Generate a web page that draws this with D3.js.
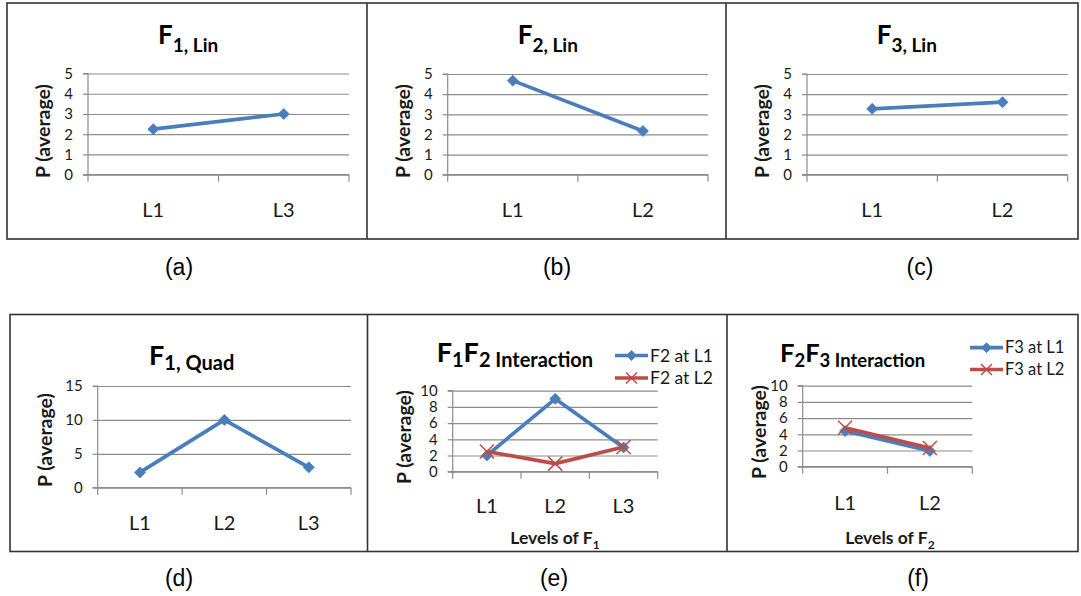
<!DOCTYPE html>
<html><head><meta charset="utf-8">
<script src="https://cdn.jsdelivr.net/npm/d3@7"></script>
<style>
html,body{margin:0;padding:0;background:#fff;}
svg{display:block;}
</style></head><body>
<svg id="fig" width="1081" height="596"></svg>
<script>
// Factor levels on each horizontal axis
const levelsF1Lin = ["L1", "L3"];
const levelsTwo = ["L1", "L2"];
const levelsThree = ["L1", "L2", "L3"];

// Average P at each level
const f1Lin = [2.25, 3.0];
const f2Lin = [4.67, 2.17];
const f3Lin = [3.27, 3.6];
const f1Quad = [2.25, 10, 3];
const f2AtL1 = [2, 9, 3];
const f2AtL2 = [2.5, 1, 3.05];
const f3AtL1 = [4.4, 1.95];
const f3AtL2 = [4.8, 2.3];

// Series names for the interaction plots
const seriesF1F2 = ["F2 at L1", "F2 at L2"];
const seriesF2F3 = ["F3 at L1", "F3 at L2"];

// Y tick values
const ticksLin = [0, 1, 2, 3, 4, 5];
const ticksQuad = [0, 5, 10, 15];
const ticksInter = [0, 2, 4, 6, 8, 10];

const captions = ["(a)", "(b)", "(c)", "(d)", "(e)", "(f)"];

const BLUE = "#4a7ebb", RED = "#be4b48", GRID = "#8c8c8c", INK = "#1a1a1a";
const FONT = "Lato, 'Open Sans', sans-serif";

const svg = d3.select("#fig");

// Panel frames: two rows of three boxes
const frame = svg.append("g").attr("fill", "none").attr("stroke", "#333").attr("stroke-width", 1.6);
frame.append("rect").attr("x", 7).attr("y", 3).attr("width", 1071).attr("height", 236);
frame.append("line").attr("x1", 367).attr("x2", 367).attr("y1", 3).attr("y2", 239);
frame.append("line").attr("x1", 726).attr("x2", 726).attr("y1", 3).attr("y2", 239);
frame.append("rect").attr("x", 10).attr("y", 314.5).attr("width", 1068).attr("height", 237);
frame.append("line").attr("x1", 367.5).attr("x2", 367.5).attr("y1", 314.5).attr("y2", 551.5);
frame.append("line").attr("x1", 727).attr("x2", 727).attr("y1", 314.5).attr("y2", 551.5);

const panels = [
  { levels: levelsF1Lin, ticks: ticksLin, series: [{ v: f1Lin, c: BLUE, m: "diamond" }],
    box: [88, 349, 73.5, 174.7], labelY: 217, yLabel: [43, 131],
    title: { x: 158, y: 43.5, parts: [["F", 0], ["1, Lin", 1]], big: 26, sub: 19, off: 8 } },
  { levels: levelsTwo, ticks: ticksLin, series: [{ v: f2Lin, c: BLUE, m: "diamond" }],
    box: [447.7, 708, 74, 174.7], labelY: 217, yLabel: [403, 131],
    title: { x: 517.7, y: 43.5, parts: [["F", 0], ["2, Lin", 1]], big: 26, sub: 19, off: 8 } },
  { levels: levelsTwo, ticks: ticksLin, series: [{ v: f3Lin, c: BLUE, m: "diamond" }],
    box: [807, 1067.7, 74, 174.7], labelY: 217, yLabel: [762, 131],
    title: { x: 876.7, y: 43.5, parts: [["F", 0], ["3, Lin", 1]], big: 26, sub: 19, off: 8 } },
  { levels: levelsThree, ticks: ticksQuad, series: [{ v: f1Quad, c: BLUE, m: "diamond" }],
    box: [97.7, 351, 386, 487.7], labelY: 529.5, yLabel: [45, 440],
    title: { x: 149, y: 364.5, parts: [["F", 0], ["1, Quad", 1]], big: 27, sub: 20, off: 5 } },
  { levels: levelsThree, ticks: ticksInter,
    series: [{ v: f2AtL1, c: BLUE, m: "diamond", name: seriesF1F2[0] }, { v: f2AtL2, c: RED, m: "cross", name: seriesF1F2[1] }],
    box: [452.7, 657.7, 390.7, 471.7], labelY: 513, yLabel: [404, 437],
    legend: { x: 615, y: [355.5, 378], size: 17.5 }, xTitle: { x: 555, y: 544, sub: "1" },
    title: { x: 436.7, y: 362, parts: [["F", 0], ["1", 1], ["F", 0], ["2", 1], [" Interaction", 1]], big: 27, sub: 20, off: 5 } },
  { levels: levelsTwo, ticks: ticksInter,
    series: [{ v: f3AtL1, c: BLUE, m: "diamond", name: seriesF2F3[0] }, { v: f3AtL2, c: RED, m: "cross", name: seriesF2F3[1] }],
    box: [802.7, 972.3, 385.7, 466.7], labelY: 509.5, yLabel: [759, 432],
    legend: { x: 970, y: [347.7, 369.5], size: 16.5 }, xTitle: { x: 890, y: 544, sub: "2" },
    title: { x: 780, y: 362, parts: [["F", 0], ["2", 1], ["F", 0], ["3", 1], [" Interaction", 1]], big: 25.5, sub: 18.5, off: 5 } }
];

function marker(sel, kind, color, r) {
  if (kind === "diamond") {
    sel.append("path").attr("d", `M0,${-r}L${r},0L0,${r}L${-r},0Z`).attr("fill", color).attr("stroke", color).attr("stroke-width", 0.8);
  } else {
    sel.append("path").attr("d", `M${-r},${-r}L${r},${r}M${-r},${r}L${r},${-r}`).attr("fill", "none").attr("stroke", color).attr("stroke-width", 1.5);
  }
}

panels.forEach(p => {
  const [x0, x1, yTop, yBot] = p.box;
  const g = svg.append("g");
  const x = d3.scaleBand().domain(p.levels).range([x0, x1]);
  const bw = x.bandwidth();
  const cx = d => x(d) + bw / 2;
  const y = d3.scaleLinear().domain([0, d3.max(p.ticks)]).range([yBot, yTop]);

  // horizontal gridlines
  g.append("g").attr("transform", `translate(${x0},0)`)
    .call(d3.axisLeft(y).tickValues(p.ticks).tickSize(-(x1 - x0)).tickFormat(""))
    .call(s => { s.select(".domain").remove(); s.selectAll("line").attr("stroke", GRID).attr("stroke-width", 1.2); });

  // vertical axis with tick labels
  g.append("g").attr("transform", `translate(${x0},0)`)
    .call(d3.axisLeft(y).tickValues(p.ticks).tickFormat(d3.format("d")).tickSize(5).tickPadding(10))
    .call(s => {
      s.select(".domain").attr("stroke", GRID).attr("stroke-width", 1.2).attr("d", `M-5,${yBot}H0V${yTop}H-5`);
      s.selectAll(".tick line").attr("stroke", GRID).attr("stroke-width", 1.2);
      s.selectAll("text").attr("font-family", FONT).attr("font-size", 15).attr("fill", INK);
    });

  // category axis: baseline, ticks between categories, labels at centres
  const xa = g.append("g");
  xa.append("line").attr("x1", x0).attr("x2", x1).attr("y1", yBot).attr("y2", yBot).attr("stroke", GRID).attr("stroke-width", 1.2);
  xa.selectAll("line.edge").data(p.levels.map(d => x(d)).concat([x1])).join("line").attr("class", "edge")
    .attr("x1", d => d).attr("x2", d => d).attr("y1", yBot).attr("y2", yBot + 7)
    .attr("stroke", GRID).attr("stroke-width", 1.2);
  xa.selectAll("text").data(p.levels).join("text")
    .attr("x", cx).attr("y", p.labelY).attr("text-anchor", "middle")
    .attr("font-family", FONT).attr("font-size", 20).attr("fill", INK).text(d => d);

  // series lines and markers
  p.series.forEach(s => {
    g.append("path").datum(s.v)
      .attr("d", d3.line().x((d, i) => cx(p.levels[i])).y(d => y(d)))
      .attr("fill", "none").attr("stroke", s.c).attr("stroke-width", 3.7).attr("stroke-linejoin", "round");
    s.v.forEach((v, i) => {
      const m = g.append("g").attr("transform", `translate(${cx(p.levels[i])},${y(v)})`);
      marker(m, s.m, s.c, s.m === "diamond" ? 5.5 : 7);
    });
  });

  // y-axis title
  g.append("text").attr("transform", `translate(${p.yLabel[0]},${p.yLabel[1]}) rotate(-90)`)
    .attr("text-anchor", "middle").attr("dy", "0.35em")
    .attr("font-family", FONT).attr("font-weight", 700).attr("font-size", 19.5).attr("fill", INK)
    .text("P (average)");

  // chart title with subscripts
  const t = p.title;
  const tt = g.append("text").attr("x", t.x).attr("y", t.y)
    .attr("font-family", FONT).attr("font-weight", 700).attr("fill", "#000");
  t.parts.forEach(([txt, isSub]) => {
    tt.append("tspan").attr("y", isSub ? t.y + t.off : t.y)
      .attr("font-size", isSub ? t.sub : t.big).text(txt);
  });

  // x-axis title
  if (p.xTitle) {
    const xt = g.append("text").attr("x", p.xTitle.x).attr("y", p.xTitle.y).attr("text-anchor", "middle")
      .attr("font-family", FONT).attr("font-weight", 700).attr("font-size", 17.5).attr("fill", INK);
    xt.append("tspan").text("Levels of F");
    xt.append("tspan").attr("dy", 5).attr("font-size", 12).text(p.xTitle.sub);
  }

  // legend
  if (p.legend) {
    p.series.forEach((s, i) => {
      const ly = p.legend.y[i];
      const lg = g.append("g");
      lg.append("line").attr("x1", p.legend.x).attr("x2", p.legend.x + 33).attr("y1", ly).attr("y2", ly)
        .attr("stroke", s.c).attr("stroke-width", 3.7);
      const m = lg.append("g").attr("transform", `translate(${p.legend.x + 16.5},${ly})`);
      marker(m, s.m, s.c, s.m === "diamond" ? 5 : 5.5);
      lg.append("text").attr("x", p.legend.x + 35).attr("y", ly).attr("dy", "0.35em")
        .attr("font-family", FONT).attr("font-size", p.legend.size).attr("fill", INK).text(s.name);
    });
  }
});

// panel captions
const capPos = [[179, 275], [557, 275], [920, 275], [179, 586], [554, 586], [918, 586]];
svg.selectAll("text.cap").data(captions).join("text").attr("class", "cap")
  .attr("x", (d, i) => capPos[i][0]).attr("y", (d, i) => capPos[i][1])
  .attr("text-anchor", "middle").attr("font-family", "'Liberation Sans', Arial, sans-serif")
  .attr("font-size", 23).attr("fill", "#000").text(d => d);
</script>
</body></html>
